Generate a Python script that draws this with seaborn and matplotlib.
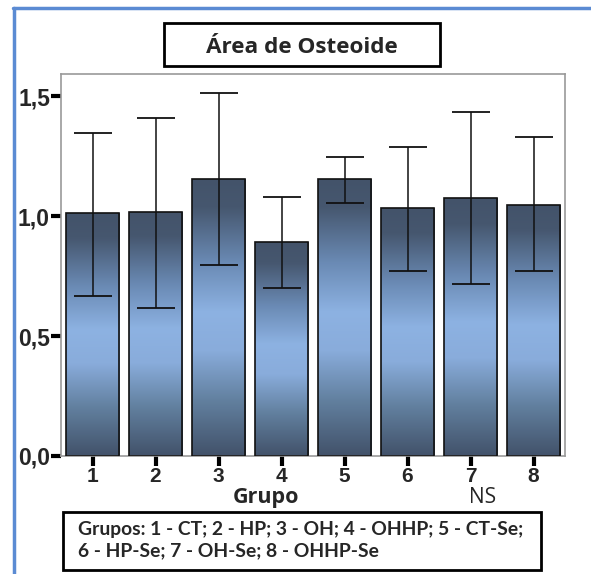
import numpy as np
import pandas as pd
import matplotlib
matplotlib.use("Agg")
import matplotlib.pyplot as plt
import seaborn as sns
from matplotlib.colors import LinearSegmentedColormap
from matplotlib.patches import Rectangle

# Osteoid area per group: mean and error-bar limits
grupos = ["1", "2", "3", "4", "5", "6", "7", "8"]
media = [1.012, 1.017, 1.154, 0.893, 1.153, 1.032, 1.075, 1.047]
limite_sup = [1.346, 1.408, 1.512, 1.080, 1.247, 1.286, 1.433, 1.329]
limite_inf = [0.667, 0.617, 0.795, 0.700, 1.053, 0.772, 0.717, 0.772]
yticks = [0.0, 0.5, 1.0, 1.5]
ytick_labels = ["0,0", "0,5", "1,0", "1,5"]

sns.set_style("white")
plt.rcParams["font.family"] = ["Lato", "DejaVu Sans"]
OPEN = ["Open Sans", "DejaVu Sans"]

df = pd.DataFrame({"Grupo": grupos, "Area": media})

fig = plt.figure(figsize=(5.91, 5.74), dpi=100)
ax = fig.add_axes([61 / 591, 1 - 456 / 574, (565 - 61) / 591, (456 - 74) / 574])

sns.barplot(data=df, x="Grupo", y="Area", color="#6f8fb8", width=0.857,
            edgecolor="#111111", linewidth=1.2, errorbar=None, ax=ax, zorder=2)

# vertical dark-light-dark shading inside each bar
cmap = LinearSegmentedColormap.from_list(
    "barra",
    [(0.0, "#43536a"), (0.10, "#46576f"), (0.30, "#6a8ab4"), (0.48, "#8db2e2"),
     (0.62, "#89acdb"), (0.80, "#62809f"), (1.0, "#42526a")])
grad = np.linspace(0, 1, 256).reshape(-1, 1)
for p in list(ax.patches):
    x0, y0 = p.get_x(), p.get_y()
    w, h = p.get_width(), p.get_height()
    p.set_facecolor("none")
    p.set_zorder(3)
    im = ax.imshow(grad, cmap=cmap, aspect="auto", origin="upper",
                   extent=[x0, x0 + w, y0, y0 + h], zorder=2,
                   interpolation="bilinear")
    im.set_clip_path(p)

pos = np.arange(len(grupos))
err = [np.array(media) - np.array(limite_inf), np.array(limite_sup) - np.array(media)]
ax.errorbar(pos, media, yerr=err, fmt="none", ecolor="#111111",
            elinewidth=1.1, capsize=14, capthick=1.3, zorder=4)

ax.set_xlim(-0.5, 7.5)
ax.set_ylim(0, 1.592)
ax.set_yticks(yticks)
ax.set_yticklabels(ytick_labels)
ax.set_xlabel("")
ax.set_ylabel("")

for s in ax.spines.values():
    s.set_color("#999999")
    s.set_linewidth(1.2)

ax.tick_params(axis="both", direction="out", length=7, width=3, color="black",
               pad=1, left=True, bottom=True)
ax.tick_params(axis="x", labelsize=15)
ax.tick_params(axis="y", labelsize=16.5)
for lab in ax.get_xticklabels() + ax.get_yticklabels():
    lab.set_fontweight("bold")
    lab.set_family(["Liberation Sans", "DejaVu Sans"])

# axis caption and note
fig.text(266 / 591, 1 - 503 / 574, "Grupo", ha="center", va="baseline",
         fontsize=15.5, fontweight="bold", family=OPEN)
fig.text(483 / 591, 1 - 503 / 574, "NS", ha="center", va="baseline",
         fontsize=15, family=OPEN)

# title box
fig.add_artist(Rectangle((164 / 591, 1 - 66 / 574), (440 - 164) / 591, 43 / 574,
                         transform=fig.transFigure, fill=False,
                         edgecolor="black", linewidth=2))
fig.text(302 / 591, 1 - 53 / 574, "Área de Osteoide", ha="center", va="baseline",
         fontsize=16.2, fontweight="bold", family=OPEN)

# group legend box
fig.add_artist(Rectangle((63 / 591, 1 - 570 / 574), (541 - 63) / 591, 58 / 574,
                         transform=fig.transFigure, fill=False,
                         edgecolor="black", linewidth=2))
fig.text(78 / 591, 1 - 529 / 574, "Grupos: 1 - CT; 2 - HP; 3 - OH; 4 - OHHP; 5 - CT-Se;",
         ha="left", va="center", fontsize=13.9, fontweight="bold")
fig.text(78 / 591, 1 - 551 / 574, "6 - HP-Se; 7 - OH-Se; 8 - OHHP-Se",
         ha="left", va="center", fontsize=13.9, fontweight="bold")

# outer frame lines
frame_col = "#5b8bd3"
fig.add_artist(plt.Line2D([13 / 591, 1.0], [1 - 8 / 574, 1 - 8 / 574],
                          transform=fig.transFigure, color=frame_col, linewidth=2.5))
fig.add_artist(plt.Line2D([14 / 591, 14 / 591], [1 - 8 / 574, 0.0],
                          transform=fig.transFigure, color=frame_col, linewidth=2.5))

fig.savefig("out.png", dpi=100)
